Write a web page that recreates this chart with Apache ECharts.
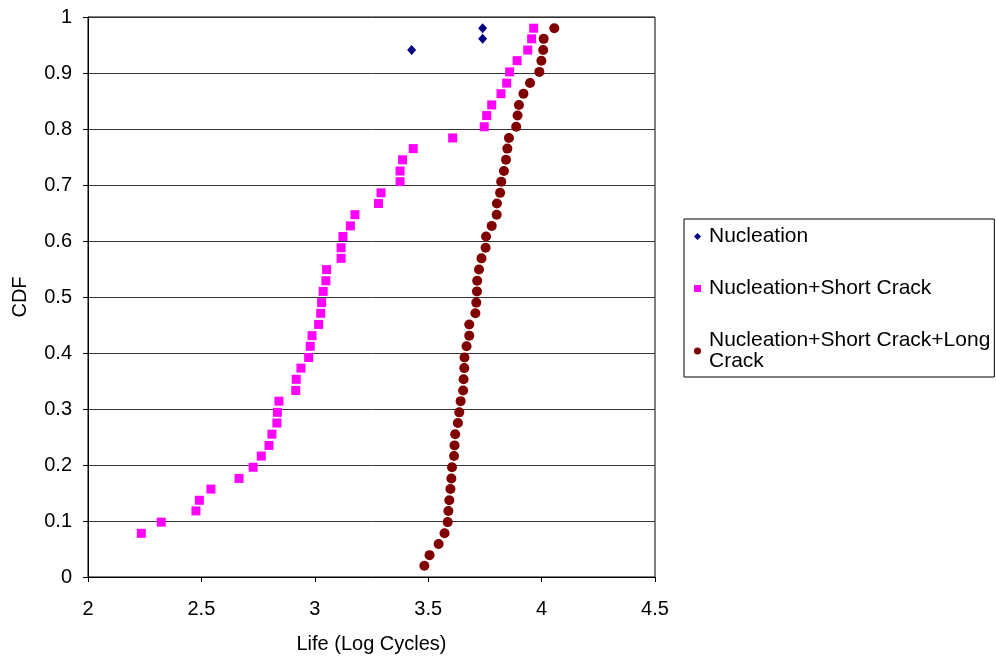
<!DOCTYPE html>
<html>
<head>
<meta charset="utf-8">
<title>CDF - Life (Log Cycles)</title>
<script src="https://cdn.jsdelivr.net/npm/echarts@6/dist/echarts.min.js"></script>
<style>
  html, body { margin: 0; padding: 0; background: #fff; }
  #charts { width: 996px; height: 659px; }
</style>
</head>
<body>
<div id="charts"></div>
<script>
// CDF levels are rank / 51
var nucleationLife = [3.427, 3.740, 3.740];
var nucleationCdf  = [0.941, 0.961, 0.980];

var shortCrackLife = [
  2.235, 2.323, 2.476, 2.491, 2.542, 2.666, 2.728, 2.764, 2.798, 2.811,
  2.833, 2.835, 2.842, 2.916, 2.918, 2.939, 2.973, 2.980, 2.988, 3.017,
  3.026, 3.030, 3.037, 3.049, 3.052, 3.116, 3.116, 3.124, 3.157, 3.177,
  3.281, 3.292, 3.376, 3.376, 3.387, 3.434, 3.608, 3.747, 3.758, 3.780,
  3.821, 3.846, 3.859, 3.892, 3.939, 3.956, 3.965
];
var shortCrackCdf = [
  0.078, 0.098, 0.118, 0.137, 0.157, 0.176, 0.196, 0.216, 0.235, 0.255,
  0.275, 0.294, 0.314, 0.333, 0.353, 0.373, 0.392, 0.412, 0.431, 0.451,
  0.471, 0.490, 0.510, 0.529, 0.549, 0.569, 0.588, 0.608, 0.627, 0.647,
  0.667, 0.686, 0.706, 0.725, 0.745, 0.765, 0.784, 0.804, 0.824, 0.843,
  0.863, 0.882, 0.902, 0.922, 0.941, 0.961, 0.980
];

var longCrackLife = [
  3.483, 3.506, 3.546, 3.572, 3.586, 3.589, 3.593, 3.598, 3.602, 3.605,
  3.614, 3.616, 3.619, 3.631, 3.637, 3.643, 3.654, 3.656, 3.659, 3.660,
  3.669, 3.681, 3.681, 3.708, 3.712, 3.715, 3.716, 3.724, 3.735, 3.753,
  3.755, 3.780, 3.802, 3.803, 3.817, 3.822, 3.834, 3.843, 3.849, 3.856,
  3.888, 3.894, 3.900, 3.920, 3.949, 3.990, 3.999, 4.007, 4.009, 4.056
];
var longCrackCdf = [
  0.020, 0.039, 0.059, 0.078, 0.098, 0.118, 0.137, 0.157, 0.176, 0.196,
  0.216, 0.235, 0.255, 0.275, 0.294, 0.314, 0.333, 0.353, 0.373, 0.392,
  0.412, 0.431, 0.451, 0.471, 0.490, 0.510, 0.529, 0.549, 0.569, 0.588,
  0.608, 0.627, 0.647, 0.667, 0.686, 0.706, 0.725, 0.745, 0.765, 0.784,
  0.804, 0.824, 0.843, 0.863, 0.882, 0.902, 0.922, 0.941, 0.961, 0.980
];

var seriesNames = ['Nucleation', 'Nucleation+Short Crack', 'Nucleation+Short Crack+Long Crack'];

function pairs(xs, ys) {
  var out = [];
  for (var i = 0; i < xs.length; i++) out.push([xs[i], ys[i]]);
  return out;
}

var font = 'Liberation Sans, Arial, sans-serif';
var myChart = echarts.init(document.getElementById('charts'), null, {renderer: 'canvas'});
var option = {
  animation: false,
  backgroundColor: '#fff',
  textStyle: { fontFamily: font },
  grid: {
    left: 88, right: 341, top: 17, bottom: 81,
    show: true, borderColor: '#000', borderWidth: 1
  },
  legend: {
    orient: 'vertical',
    left: 684, top: 219,
    padding: [7, 4, 5, 10],
    itemGap: 31,
    itemWidth: 7, itemHeight: 7,
    backgroundColor: '#fff',
    borderColor: '#000', borderWidth: 1,
    textStyle: { fontSize: 21, color: '#000', fontFamily: font, lineHeight: 21, padding: [0, 0, 0, 3] },
    formatter: function (n) {
      return n === seriesNames[2] ? 'Nucleation+Short Crack+Long\nCrack' : n;
    },
    data: seriesNames
  },
  xAxis: {
    type: 'value',
    min: 2, max: 4.5, interval: 0.5,
    name: 'Life (Log Cycles)',
    nameLocation: 'middle',
    nameGap: 57,
    nameTextStyle: { fontSize: 20, color: '#000', fontFamily: font },
    axisLine: { lineStyle: { color: '#000' } },
    axisTick: { show: true, length: 5, lineStyle: { color: '#000' } },
    axisLabel: { fontSize: 20, color: '#000', margin: 22 },
    splitLine: { show: false }
  },
  yAxis: {
    type: 'value',
    min: 0, max: 1, interval: 0.1,
    name: 'CDF',
    nameLocation: 'middle',
    nameGap: 58,
    nameTextStyle: { fontSize: 20, color: '#000', fontFamily: font },
    axisLine: { show: true, lineStyle: { color: '#000' } },
    axisTick: { show: true, length: 5, lineStyle: { color: '#000' } },
    axisLabel: { fontSize: 20, color: '#000', margin: 16 },
    splitLine: { show: true, lineStyle: { color: '#333', width: 1 } }
  },
  series: [
    {
      name: seriesNames[0],
      type: 'scatter',
      symbol: 'diamond',
      symbolSize: [9, 10],
      itemStyle: { color: '#000080', opacity: 1 },
      data: pairs(nucleationLife, nucleationCdf)
    },
    {
      name: seriesNames[1],
      type: 'scatter',
      symbol: 'rect',
      symbolSize: 9,
      itemStyle: { color: '#FF00FF', opacity: 1 },
      data: pairs(shortCrackLife, shortCrackCdf)
    },
    {
      name: seriesNames[2],
      type: 'scatter',
      symbol: 'circle',
      symbolSize: 10,
      itemStyle: { color: '#800000', opacity: 1 },
      data: pairs(longCrackLife, longCrackCdf)
    }
  ]
};
myChart.setOption(option);
</script>
</body>
</html>
